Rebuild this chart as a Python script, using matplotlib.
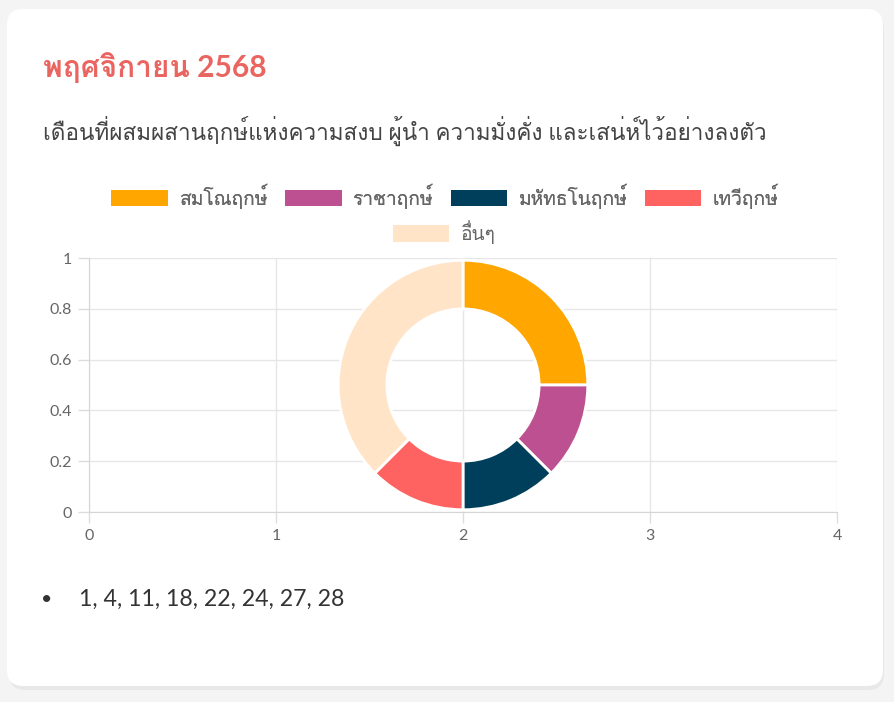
import matplotlib
matplotlib.use("Agg")
import matplotlib.pyplot as plt
from matplotlib.patches import FancyBboxPatch, Patch

# ข้อมูล
title = "พฤศจิกายน 2568"
subtitle = "เดือนที่ผสมผสานฤกษ์แห่งความสงบ ผู้นำ ความมั่งคั่ง และเสน่ห์ไว้อย่างลงตัว"
labels = ["สมโณฤกษ์", "ราชาฤกษ์", "มหัทธโนฤกษ์", "เทวีฤกษ์", "อื่นๆ"]
values = [2, 1, 1, 1, 3]
colors = ["#ffa600", "#bc5090", "#003f5c", "#ff6361", "#ffe4c8"]
days = [1, 4, 11, 18, 22, 24, 27, 28]
x_ticks = [0, 1, 2, 3, 4]
y_ticks = [0, 0.2, 0.4, 0.6, 0.8, 1]
y_tick_labels = ["0", "0.2", "0.4", "0.6", "0.8", "1"]

# Lato สำหรับตัวเลข, Loma สำหรับภาษาไทย (วรรณยุกต์ไม่ทับสระ)
FONT = ["Lato", "Loma", "DejaVu Sans"]
plt.rcParams["font.family"] = FONT

W, H = 895, 702
fig = plt.figure(figsize=(W / 100, H / 100), dpi=100, facecolor="#f4f4f4")

def fx(px):
    return px / W

def fy(py):
    return 1 - py / H

# การ์ดพื้นหลังพร้อมเงา
shadow = FancyBboxPatch((fx(9), fy(690)), fx(875), (690 - 12) / H,
                        boxstyle="round,pad=0,rounding_size=0.018",
                        transform=fig.transFigure, facecolor="#e8e8e8",
                        edgecolor="none", zorder=-2, mutation_aspect=W / H)
fig.patches.append(shadow)
card = FancyBboxPatch((fx(7), fy(686)), fx(876), (686 - 9) / H,
                      boxstyle="round,pad=0,rounding_size=0.018",
                      transform=fig.transFigure, facecolor="white",
                      edgecolor="none", zorder=-1, mutation_aspect=W / H)
fig.patches.append(card)

fig.text(fx(43), fy(68), title, fontsize=21.5, fontweight="bold",
         color="#ea6460", va="center", ha="left")
fig.text(fx(43), fy(131), subtitle, fontsize=16.2, color="#444444",
         va="center", ha="left")

# แกนหลัก
ax = fig.add_axes([fx(89), fy(512), fx(837 - 89), (512 - 258) / H])
ax.set_xlim(0, 4)
ax.set_ylim(0, 1)
ax.set_xticks(x_ticks)
ax.set_yticks(y_ticks)
ax.set_yticklabels(y_tick_labels)
ax.grid(True, color="#e6e6e6", linewidth=1)
ax.set_axisbelow(True)
ax.tick_params(colors="#dddddd", labelcolor="#666666", labelsize=11.5,
               length=8, width=1, pad=4)
for side in ["top", "right"]:
    ax.spines[side].set_visible(False)
for side in ["left", "bottom"]:
    ax.spines[side].set_color("#d5d5d5")
ax.set_facecolor("none")

# โดนัท
fig.canvas.draw()
cx, cy = ax.transData.transform((2, 0.5))
r_px = 126
pax = fig.add_axes([(cx - r_px) / W, (cy - r_px) / H, 2 * r_px / W, 2 * r_px / H])
pax.pie(values, colors=colors, startangle=90, counterclock=False,
        radius=1.0, wedgeprops=dict(width=0.39, edgecolor="white", linewidth=2))
pax.set_xlim(-1.01, 1.01)
pax.set_ylim(-1.01, 1.01)
pax.set_aspect("equal")
pax.axis("off")

# คำอธิบาย (แถวละ 4 รายการ)
handles = [Patch(facecolor=c, edgecolor="none") for c in colors]
leg_kw = dict(loc="center", frameon=False, fontsize=13.8, labelcolor="#666666",
              handlelength=2.95, handleheight=0.94, handletextpad=0.6,
              columnspacing=0.9, borderpad=0, borderaxespad=0)
leg1 = fig.legend(handles[:4], labels[:4], bbox_to_anchor=(fx(445), fy(196)),
                  ncol=4, **leg_kw)
fig.add_artist(leg1)
fig.legend(handles[4:], labels[4:], bbox_to_anchor=(fx(444), fy(232)),
           ncol=1, **leg_kw)

# รายการวันที่
fig.text(fx(47), fy(599), "•", fontsize=14, color="#333333", va="center", ha="center")
fig.text(fx(79), fy(599), ", ".join(str(d) for d in days), fontsize=16.7,
         color="#333333", va="center", ha="left")

fig.savefig("out.png", dpi=100, facecolor=fig.get_facecolor())
